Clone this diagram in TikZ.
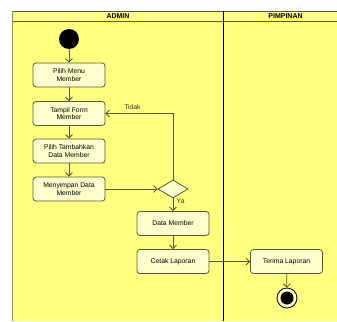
\documentclass[tikz,border=0pt]{standalone}
\usepackage{fontspec}
\setmainfont{Liberation Sans}
\usepackage{xcolor}
\usetikzlibrary{arrows.meta,shapes.geometric}

\definecolor{laneyellow}{RGB}{255,255,128}
\definecolor{actfill}{RGB}{255,255,206}
\definecolor{actline}{RGB}{88,88,52}

\tikzset{
  act/.style={rectangle, rounded corners=3pt, draw=actline, fill=actfill, thick,
              minimum width=72pt, minimum height=24pt, align=center,
              font=\fontsize{6.8}{7.7}\selectfont, inner sep=1pt},
  flow/.style={actline, thick, -{Straight Barb[length=3.5pt,width=7pt]}},
  flowlabel/.style={font=\fontsize{6.8}{7.7}\selectfont, text=black!80},
  lanetitle/.style={font=\fontsize{7}{8}\selectfont\bfseries}
}

\begin{document}
\begin{tikzpicture}[x=1pt,y=-1pt]
\useasboundingbox (0,0) rectangle (337,321);

% Swimlanes
\fill[laneyellow] (12.5,11) rectangle (337,321);
\draw[gray!70!olive, thick] (12.5,11) -- (12.5,321);
\draw[actline] (12.5,11) -- (337,11);
\draw[actline] (12.5,21.5) -- (337,21.5);
\draw[black, thick] (223.5,11) -- (223.5,321);
\node[lanetitle] (admin) at (118,16.5) {ADMIN};
\node[lanetitle] (pimpinan) at (285.5,16.5) {PIMPINAN};

% Admin lane
\node[circle, fill=black, minimum size=20pt, inner sep=0] (start) at (69,39) {};
\node[act] (menu) at (69,75) {Pilih Menu\\Member};
\node[act] (tampil) at (69,113.5) {Tampil Form\\Member};
\node[act] (tambah) at (69,151) {Pilih Tambahkan\\Data Member};
\node[act] (simpan) at (69,189) {Menyimpan Data\\Member};
\node[diamond, draw=actline, fill=actfill, thick, minimum width=30pt,
      minimum height=18pt, inner sep=0, aspect=1.7] (cek) at (173,189) {};
\node[act] (data) at (173,223.5) {Data Member};
\node[act] (cetak) at (173,261.5) {Cetak Laporan};

% Pimpinan lane
\node[act] (terima) at (286.5,261.5) {Terima Laporan};
\node[circle, draw=black, fill=actfill, thick, minimum size=20pt, inner sep=0] (finish) at (287,298) {};
\node[circle, fill=black, minimum size=13pt, inner sep=0] (finishdot) at (finish) {};

% Flows
\draw[flow] (start) -- (menu);
\draw[flow] (menu) -- (tampil);
\draw[flow] (tampil) -- (tambah);
\draw[flow] (tambah) -- (simpan);
\draw[flow] (simpan.east) -- (cek.west);
\draw[flow] (cek.north) |- node[pos=0.8, above, flowlabel] (tidak) {Tidak} (tampil.east);
\draw[flow] (cek.south) -- node[pos=0.2, right, flowlabel] (ya) {Ya} (data);
\draw[flow] (data) -- (cetak);
\draw[flow] (cetak) -- (terima);
\draw[flow] (terima) -- (finish);

\end{tikzpicture}
\end{document}
